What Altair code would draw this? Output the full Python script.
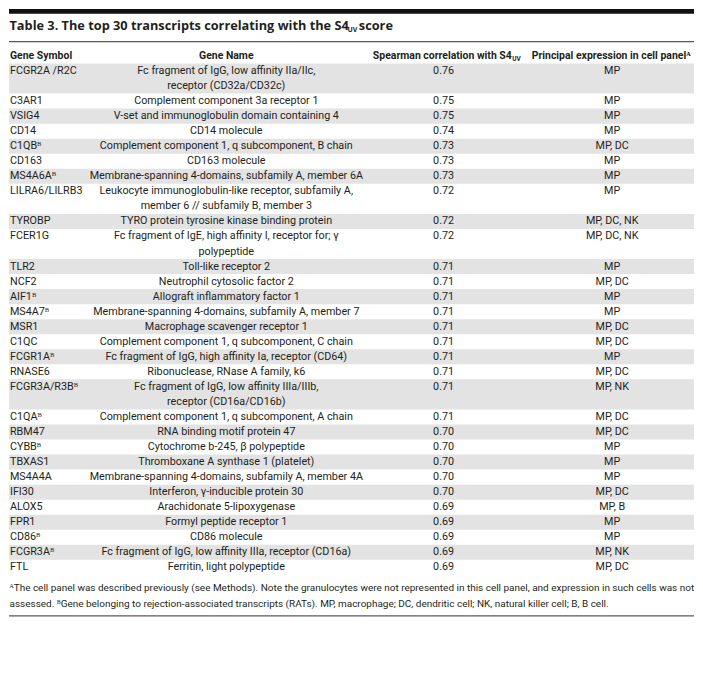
import altair as alt
import pandas as pd

# ---------------- data ----------------
symbols = ["FCGR2A /R2C", "C3AR1", "VSIG4", "CD14", "C1QB", "CD163", "MS4A6A",
           "LILRA6/LILRB3", "TYROBP", "FCER1G", "TLR2", "NCF2", "AIF1", "MS4A7",
           "MSR1", "C1QC", "FCGR1A", "RNASE6", "FCGR3A/R3B", "C1QA", "RBM47",
           "CYBB", "TBXAS1", "MS4A4A", "IFI30", "ALOX5", "FPR1", "CD86", "FCGR3A", "FTL"]
rat_flag = [0, 0, 0, 0, 1, 0, 1, 0, 0, 0, 0, 0, 1, 1, 0, 0, 1, 0, 1, 1, 0, 1, 0, 0, 0, 0, 0, 1, 1, 0]
gene_names = [
    "Fc fragment of IgG, low affinity IIa/IIc,\nreceptor (CD32a/CD32c)",
    "Complement component 3a receptor 1",
    "V-set and immunoglobulin domain containing 4",
    "CD14 molecule",
    "Complement component 1, q subcomponent, B chain",
    "CD163 molecule",
    "Membrane-spanning 4-domains, subfamily A, member 6A",
    "Leukocyte immunoglobulin-like receptor, subfamily A,\nmember 6 // subfamily B, member 3",
    "TYRO protein tyrosine kinase binding protein",
    "Fc fragment of IgE, high affinity I, receptor for; γ\npolypeptide",
    "Toll-like receptor 2",
    "Neutrophil cytosolic factor 2",
    "Allograft inflammatory factor 1",
    "Membrane-spanning 4-domains, subfamily A, member 7",
    "Macrophage scavenger receptor 1",
    "Complement component 1, q subcomponent, C chain",
    "Fc fragment of IgG, high affinity Ia, receptor (CD64)",
    "Ribonuclease, RNase A family, k6",
    "Fc fragment of IgG, low affinity IIIa/IIIb,\nreceptor (CD16a/CD16b)",
    "Complement component 1, q subcomponent, A chain",
    "RNA binding motif protein 47",
    "Cytochrome b-245, β polypeptide",
    "Thromboxane A synthase 1 (platelet)",
    "Membrane-spanning 4-domains, subfamily A, member 4A",
    "Interferon, γ-inducible protein 30",
    "Arachidonate 5-lipoxygenase",
    "Formyl peptide receptor 1",
    "CD86 molecule",
    "Fc fragment of IgG, low affinity IIIa, receptor (CD16a)",
    "Ferritin, light polypeptide",
]
spearman = [0.76, 0.75, 0.75, 0.74, 0.73, 0.73, 0.73, 0.72, 0.72, 0.72,
            0.71, 0.71, 0.71, 0.71, 0.71, 0.71, 0.71, 0.71, 0.71, 0.71,
            0.70, 0.70, 0.70, 0.70, 0.70, 0.69, 0.69, 0.69, 0.69, 0.69]
expression = ["MP", "MP", "MP", "MP", "MP, DC", "MP", "MP", "MP", "MP, DC, NK", "MP, DC, NK",
              "MP", "MP, DC", "MP", "MP", "MP, DC", "MP, DC", "MP", "MP, DC", "MP, NK", "MP, DC",
              "MP, DC", "MP", "MP", "MP", "MP, DC", "MP, B", "MP", "MP", "MP, NK", "MP, DC"]

title_main = "Table 3. The top 30 transcripts correlating with the S4"
title_sub = "UV"
title_end = "score"
headers = ["Gene Symbol", "Gene Name", "Spearman correlation with S4", "Principal expression in cell panelᴬ"]
footnotes = [
    "ᴬThe cell panel was described previously (see Methods). Note the granulocytes were not represented in this cell panel, and expression in such cells was not",
    "assessed. ᴮGene belonging to rejection-associated transcripts (RATs). MP, macrophage; DC, dendritic cell; NK, natural killer cell; B, B cell.",
]

# ---------------- layout (reference pixel space) ----------------
W, H = 703, 679
LINE = 15.45
TOP = 56.0
X_SYM, X_NAME, X_CORR, X_EXPR = 1, 223, 446, 619
FONT = "Roboto"
TXT = "#231f20"

band_rows, sym_rows, center_rows = [], [], []
y0 = TOP
for i, name in enumerate(gene_names):
    lines = name.split("\n")
    y1 = y0 + LINE * len(lines)
    if i % 2 == 0:
        band_rows.append({"x": 0, "x2": W, "y": y0, "y2": y1})
    yc = y0 + LINE / 2
    sym_rows.append({"x": X_SYM, "y": yc, "t": symbols[i] + ("ᴮ" if rat_flag[i] else "")})
    for k, ln in enumerate(lines):
        center_rows.append({"x": X_NAME, "y": yc + k * LINE, "t": ln})
    center_rows.append({"x": X_CORR, "y": yc, "t": f"{spearman[i]:.2f}"})
    center_rows.append({"x": X_EXPR, "y": yc, "t": expression[i]})
    y0 = y1

foot_y0 = y0 + 13.5
foot_rows = [{"x": 0.5, "y": foot_y0 + j * 16, "t": t} for j, t in enumerate(footnotes)]
bottom_rule_y = foot_y0 + 28.5

xs = alt.Scale(domain=[0, W], nice=False, zero=False)
ys = alt.Scale(domain=[0, H], nice=False, zero=False, reverse=True)


def X(f="x"):
    return alt.X(f"{f}:Q", scale=xs, axis=None)


def Y(f="y"):
    return alt.Y(f"{f}:Q", scale=ys, axis=None)


def text_layer(rows, align, size, weight="normal", color=TXT, baseline="middle", font=FONT):
    return alt.Chart(pd.DataFrame(rows)).mark_text(
        align=align, baseline=baseline, font=font, fontSize=size, fontWeight=weight, color=color
    ).encode(x=X(), y=Y(), text="t:N")


bands = alt.Chart(pd.DataFrame(band_rows)).mark_rect(color="#e3e3e3").encode(
    x=X(), x2="x2:Q", y=Y(), y2="y2:Q")

top_bar = alt.Chart(pd.DataFrame([{"x": 0, "x2": W, "y": 0, "y2": 5}])).mark_rect(color="#111111").encode(
    x=X(), x2="x2:Q", y=Y(), y2="y2:Q")

rules = alt.Chart(pd.DataFrame([{"x": 0, "x2": W, "y": 33.5}, {"x": 0, "x2": W, "y": bottom_rule_y}])).mark_rule(
    color="#5a5a5a", strokeWidth=1.2).encode(x=X(), x2="x2:Q", y=Y())

TFONT = "Open Sans"
title_l = text_layer([{"x": 0.5, "y": 18, "t": title_main}], "left", 12.8, "bold", font=TFONT)
title_s = text_layer([{"x": 347.5, "y": 21.5, "t": title_sub}], "left", 7, "bold", font=TFONT)
title_e = text_layer([{"x": 359, "y": 18, "t": title_end}], "left", 12.8, "bold", font=TFONT)

hdr_y = 48
HS = 10.5
hdr_left = text_layer([{"x": X_SYM, "y": hdr_y, "t": headers[0]}], "left", HS, "bold")
hdr_center = text_layer([{"x": X_NAME, "y": hdr_y, "t": headers[1]},
                         {"x": 618, "y": hdr_y, "t": headers[3]}], "center", HS, "bold")
hdr_right = text_layer([{"x": 516, "y": hdr_y, "t": headers[2]}], "right", HS, "bold")
hdr_sub = text_layer([{"x": 516.5, "y": hdr_y + 3.5, "t": title_sub}], "left", 6.5, "bold")

syms = text_layer(sym_rows, "left", 10.8)
cells = text_layer(center_rows, "center", 10.8)
foots = text_layer(foot_rows, "left", 10.0)

chart = alt.layer(
    bands, top_bar, rules, title_l, title_s, title_e,
    hdr_left, hdr_center, hdr_right, hdr_sub, syms, cells, foots
).properties(width=687, height=663, padding=0, background="white").configure_view(strokeWidth=0)

chart.save("out.html", embed_options={"renderer": "svg", "actions": False})
